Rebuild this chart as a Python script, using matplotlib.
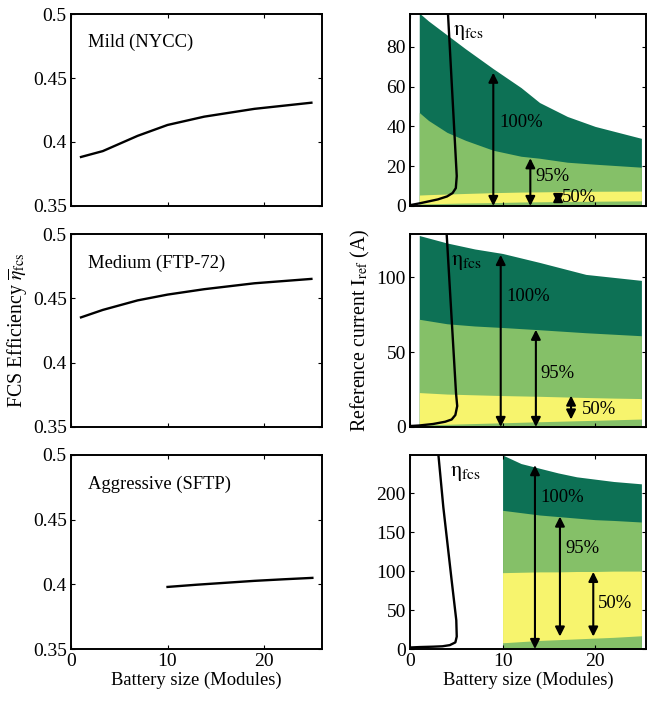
import numpy as np
import matplotlib.pyplot as plt

plt.rcParams['font.family'] = ['Liberation Serif', 'DejaVu Serif']
plt.rcParams['mathtext.fontset'] = 'stix'
plt.rcParams['font.size'] = 13

# ---- efficiency curves (left column) ----
eff_x = [1.04, 3.3, 6.9, 10.0, 13.8, 19.0, 24.9]
eff_mild = [0.3883, 0.3929, 0.4048, 0.4133, 0.4198, 0.4259, 0.4307]
eff_medium = [0.4352, 0.4410, 0.4484, 0.4529, 0.4571, 0.4617, 0.4651]
eff_aggr_x = [10, 13, 16, 19, 22, 25]
eff_aggr = [0.398, 0.3997, 0.4012, 0.4027, 0.4039, 0.405]

cycles = ["Mild (NYCC)", "Medium (FTP-72)", "Aggressive (SFTP)"]

# ---- reference current bands (right column) ----
mild_x = [1, 2, 4, 6, 9, 12, 14, 17, 20, 25]
mild_100 = [97, 93, 86, 79, 69, 59.5, 52, 45, 40, 34]
mild_95 = [47, 43, 37, 33, 28, 25, 24, 22, 21, 19.5]
mild_50_hi = [5.5, 5.7, 6, 6.3, 6.7, 7, 7.1, 7.3, 7.4, 7.5]
mild_50_lo = [1.0, 1.1, 1.3, 1.5, 1.7, 2.0, 2.1, 2.3, 2.4, 2.6]

med_x = [1, 4, 7, 10, 14, 19, 22, 25]
med_100 = [128, 123, 119, 116, 110, 102, 100, 98]
med_95 = [72, 69, 67.5, 66.5, 65, 63, 62, 61]
med_50_hi = [23, 22, 21.5, 21, 20.5, 19.7, 19.3, 19]
med_50_lo = [1.3, 1.8, 2.3, 2.8, 3.5, 4.3, 4.8, 5.3]

agg_x = [10, 12, 14, 16, 18, 20, 22, 25]
agg_100 = [249, 238, 232, 226, 221, 218, 215, 212]
agg_95 = [178, 175, 172, 170, 168, 166, 165, 163]
agg_50_hi = [98, 98.5, 99, 99, 99.5, 99.5, 100, 100]
agg_50_lo = [8, 9.5, 11, 12, 13, 14, 15, 17]

# efficiency distribution line (eta_fcs)
mild_eta_x = [0.1, 1, 2, 3, 4, 4.6, 4.95, 5.05, 4.1]
mild_eta_y = [0.5, 1.3, 2.3, 3.3, 4.8, 6.5, 9, 15, 97]
med_eta_x = [0.2, 1, 2.5, 3.8, 4.5, 4.9, 5.1, 4.97, 3.96]
med_eta_y = [0.7, 1, 2, 3.5, 5, 8, 14, 22.7, 129]
agg_eta_x = [0.1, 1, 2.5, 3.5, 4.3, 4.9, 5.05, 5.0, 4.5, 3.6, 3.07]
agg_eta_y = [2, 2.5, 3, 3.5, 5, 8.5, 16, 37, 88, 182, 249]

# arrows: x, y start, y end ; labels
mild_arr = [(9.0, 0, 67), (13.0, 0, 24), (16.0, 1, 7)]
med_arr = [(9.8, 0, 115), (13.6, 0, 65), (17.4, 5, 21)]
agg_arr = [(13.5, 0, 236), (16.2, 16, 170), (19.8, 16, 99)]
pct = ["100%", "95%", "50%"]
mild_lab = [(9.6, 42), (13.5, 15), (16.4, 4.5)]
med_lab = [(10.4, 87), (14.1, 36), (18.6, 12)]
agg_lab = [(14.1, 195), (16.8, 129), (20.3, 58)]
eta_lab = [(4.6, 87), (4.4, 110), (4.3, 225)]

ylims = [96.5, 129, 249]
yticks_r = [[0, 20, 40, 60, 80], [0, 50, 100], [0, 50, 100, 150, 200]]

dark = '#0d7155'
light = '#85c068'
yellow = '#f7f46d'

fig = plt.figure(figsize=(6.47, 7.04), dpi=100)
rows = [(0.7074, 0.2727), (0.3935, 0.2741), (0.0781, 0.2756)]

eff_data = [(eff_x, eff_mild), (eff_x, eff_medium), (eff_aggr_x, eff_aggr)]
bands = [(mild_x, mild_100, mild_95, mild_50_hi, mild_50_lo),
         (med_x, med_100, med_95, med_50_hi, med_50_lo),
         (agg_x, agg_100, agg_95, agg_50_hi, agg_50_lo)]
etas = [(mild_eta_x, mild_eta_y), (med_eta_x, med_eta_y), (agg_eta_x, agg_eta_y)]
arrows = [mild_arr, med_arr, agg_arr]
labs = [mild_lab, med_lab, agg_lab]

for i in range(3):
    b, h = rows[i]
    axl = fig.add_axes([0.1097, b, 0.388, h])
    axr = fig.add_axes([0.6337, b, 0.3648, h])

    # left: efficiency
    ex, ey = eff_data[i]
    axl.plot(ex, ey, 'k', lw=1.7)
    axl.set_xlim(0, 26)
    axl.set_ylim(0.35, 0.5)
    axl.set_yticks([0.35, 0.4, 0.45, 0.5])
    axl.set_yticklabels(['0.35', '0.4', '0.45', '0.5'])
    axl.set_xticks([0, 10, 20])
    axl.text(0.068, 0.85, cycles[i], transform=axl.transAxes, va='center', fontsize=13.4)

    # right: current bands
    x, t100, t95, h50, l50 = bands[i]
    axr.fill_between(x, 0, t100, color=dark, lw=0)
    axr.fill_between(x, 0, t95, color=light, lw=0)
    axr.fill_between(x, l50, h50, color=yellow, lw=0)
    axr.plot(*etas[i], 'k', lw=1.7)
    for (ax_, y0, y1) in arrows[i]:
        axr.annotate('', xy=(ax_, y1), xytext=(ax_, y0),
                     arrowprops=dict(arrowstyle='<|-|>', color='k', lw=1.5,
                                     mutation_scale=14, shrinkA=0, shrinkB=0))
    for t, (lx, ly) in zip(pct, labs[i]):
        axr.text(lx, ly, t, va='center', ha='left', fontsize=13.4)
    axr.text(eta_lab[i][0], eta_lab[i][1], r'$\mathrm{\eta_{fcs}}$', va='center', ha='left', fontsize=16)
    axr.set_xlim(0, 25.5)
    axr.set_ylim(0, ylims[i])
    axr.set_yticks(yticks_r[i])
    axr.set_xticks([0, 10, 20])

    for ax in (axl, axr):
        ax.tick_params(direction='in', top=True, right=True, length=3, labelsize=14, pad=3)
        for s in ax.spines.values():
            s.set_linewidth(1.4)
        if i < 2:
            ax.set_xticklabels([])
        else:
            ax.set_xlabel('Battery size (Modules)', fontsize=13.4, labelpad=1)
    if i == 1:
        axl.set_ylabel(r'FCS Efficiency $\overline{\eta}_{\mathrm{fcs}}$', fontsize=14.3, labelpad=3)
        axr.set_ylabel(r'Reference current $\mathrm{I_{ref}}$ (A)', fontsize=14.3, labelpad=3)

fig.savefig('out.png', dpi=100)
